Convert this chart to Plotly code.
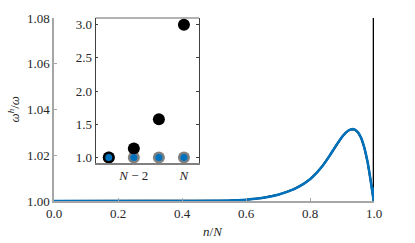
import plotly.graph_objects as go

# main curve (n/N, omega^h/omega)
curve_x = [0.0, 0.1, 0.2, 0.3, 0.4, 0.5, 0.55, 0.6, 0.65, 0.7, 0.75, 0.78, 0.8, 0.82, 0.84,
           0.86, 0.88, 0.9, 0.91, 0.92, 0.93, 0.94, 0.95, 0.96, 0.97, 0.98, 0.99, 0.997,
           0.999, 1.0]
curve_y = [1.0, 1.0, 1.0, 1.0, 1.0, 1.0001, 1.0002, 1.0006, 1.0013, 1.0027, 1.0052, 1.0075,
           1.0095, 1.0122, 1.0155, 1.0195, 1.0240, 1.0280, 1.0296, 1.0308, 1.0314, 1.0312,
           1.0300, 1.0275, 1.0232, 1.0170, 1.0085, 1.002, 1.0, 1.006]
exact_x = [0.0, 0.1, 0.2, 0.3, 0.4, 0.5, 0.55, 0.6, 0.65, 0.7, 0.75, 0.78, 0.8, 0.82, 0.84,
           0.86, 0.88, 0.9, 0.91, 0.92, 0.93, 0.94, 0.95, 0.96, 0.97, 0.98, 0.99, 0.997,
           0.999, 1.0]
exact_y = [1.0, 1.0, 1.0, 1.0, 1.0, 1.0001, 1.0002, 1.0006, 1.0013, 1.0027, 1.0052, 1.0075,
           1.0095, 1.0122, 1.0155, 1.0195, 1.0240, 1.0280, 1.0296, 1.0308, 1.0314, 1.0312,
           1.0300, 1.0275, 1.0232, 1.0170, 1.0085, 1.002, 1.0, 3.0]

# inset: last four modes N-3 .. N
inset_idx = [0, 1, 2, 3]
inset_black = [1.0, 1.135, 1.576, 3.0]
inset_blue = [1.0, 1.0, 1.0, 1.0]
inset_ticktext = ["<i>N</i> − 2", "<i>N</i>"]
inset_tickvals = [1, 3]

main_xticks = [0.0, 0.2, 0.4, 0.6, 0.8, 1.0]
main_yticks = [1.00, 1.02, 1.04, 1.06, 1.08]
inset_yticks = [1.0, 1.5, 2.0, 2.5, 3.0]

BLUE = "#0072BD"
GRAY = "#808080"
AX = "#a6a6a6"
TXT = "#262626"
FONT = "Liberation Serif, Times New Roman, serif"

fig = go.Figure()
fig.add_trace(go.Scatter(x=exact_x, y=exact_y, mode="lines",
                         line=dict(color="black", width=2), xaxis="x", yaxis="y",
                         showlegend=False, cliponaxis=True))
fig.add_trace(go.Scatter(x=curve_x, y=curve_y, mode="lines", line_shape="spline",
                         line=dict(color=BLUE, width=2.5), xaxis="x", yaxis="y",
                         showlegend=False))

fig.add_trace(go.Scatter(x=inset_idx, y=inset_blue, mode="markers",
                         marker=dict(color=GRAY, size=12), xaxis="x2", yaxis="y2",
                         showlegend=False, cliponaxis=False))
fig.add_trace(go.Scatter(x=inset_idx, y=inset_black, mode="markers",
                         marker=dict(color="black", size=12), xaxis="x2", yaxis="y2",
                         showlegend=False, cliponaxis=False))
fig.add_trace(go.Scatter(x=inset_idx, y=inset_blue, mode="markers",
                         marker=dict(color=BLUE, size=7), xaxis="x2", yaxis="y2",
                         showlegend=False, cliponaxis=False))

tickfont = dict(family=FONT, size=13, color=TXT)

fig.update_layout(
    width=415, height=243,
    margin=dict(l=54, r=41, t=18, b=42),
    font=dict(family=FONT, size=13, color=TXT),
    paper_bgcolor="white", plot_bgcolor="white",
    hovermode=False,
    xaxis=dict(range=[0, 1], tickvals=main_xticks, ticktext=[f"{v:.1f}" for v in main_xticks],
               showline=True, linecolor=AX, linewidth=1.5, ticks="inside", ticklen=3,
               tickcolor=AX, showgrid=False, zeroline=False, tickfont=tickfont),
    yaxis=dict(range=[1.0, 1.08], tickvals=main_yticks, ticktext=[f"{v:.2f}" for v in main_yticks],
               showline=True, linecolor=AX, linewidth=1.5, ticks="inside", ticklen=3,
               tickcolor=AX, showgrid=False, zeroline=False, tickfont=tickfont),
    xaxis2=dict(domain=[0.1297, 0.453], anchor="y2", range=[-0.53, 3.6],
                tickvals=inset_tickvals, ticktext=inset_ticktext, ticks="",
                showline=True, linecolor=GRAY, linewidth=1.5, showgrid=False,
                zeroline=False, tickfont=tickfont),
    yaxis2=dict(domain=[0.21, 1.0], anchor="x2", range=[0.925, 3.1],
                tickvals=inset_yticks, ticktext=[f"{v:.1f}" for v in inset_yticks],
                showline=True, mirror="ticks", linecolor="#404040", linewidth=0.8,
                ticks="inside", ticklen=3, tickcolor="#404040", showgrid=False,
                zeroline=False, tickfont=tickfont),
    shapes=[dict(type="line", xref="paper", yref="paper", x0=0.1297, x1=0.453,
                 y0=1.0, y1=1.0, line=dict(color="#404040", width=0.8))],
    annotations=[
        dict(text="<i>ω</i><sup><i>h</i></sup>/<i>ω</i>", xref="paper", yref="paper",
             x=-0.128, y=0.5, xanchor="center", yanchor="middle",
             showarrow=False, textangle=-90,
             font=dict(family=FONT, size=13, color=TXT)),
        dict(text="<i>n</i>/<i>N</i>", xref="paper", yref="paper",
             x=0.497, y=-0.166, xanchor="center", yanchor="middle", showarrow=False,
             font=dict(family=FONT, size=13, color=TXT)),
    ],
)

fig.write_html("out.html", config={"displayModeBar": False},
               post_script="document.body.style.margin='0';")
